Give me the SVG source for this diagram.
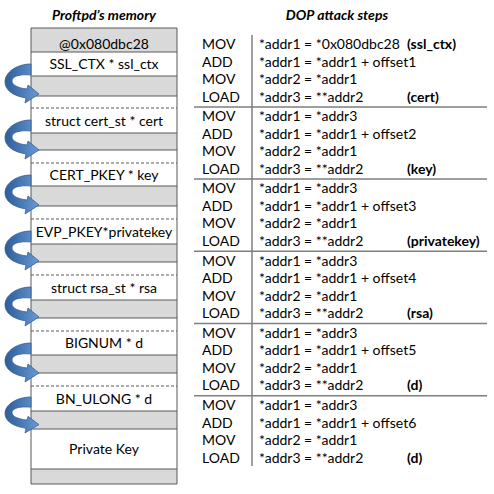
<svg xmlns="http://www.w3.org/2000/svg" xmlns:xlink="http://www.w3.org/1999/xlink" width="494" height="494" viewBox="0 0 494 494">
<defs>
<style>
.t{font-family:Lato,"Open Sans","Liberation Sans",sans-serif;font-size:14px;fill:#000}
.b{font-weight:bold}
.title{font-family:Lato,"Open Sans","Liberation Sans",sans-serif;font-size:14px;font-weight:bold;font-style:italic;fill:#000;text-anchor:middle}
.c{text-anchor:middle}
.w{fill:#fff}
.g{fill:#d9d9d9}
.sl{stroke:#595959;stroke-width:1;fill:none}
.dl{stroke:#595959;stroke-width:1;stroke-dasharray:3 2;fill:none}
.sep{stroke:#7f7f7f;stroke-width:1.5;fill:none}
.arr{fill:url(#ag);stroke:#355f94;stroke-width:0.8}
</style>
<linearGradient id="ag" x1="0" y1="0" x2="1" y2="0">
<stop offset="0" stop-color="#2f5d98"/>
<stop offset="0.6" stop-color="#4f81bd"/>
<stop offset="1" stop-color="#6a9ad6"/>
</linearGradient>
<path id="arrow" d="M31,12 C17,12 5,20 5,30 C5,38 13,44 26,46 L25,51 L39,42 L28,33 L27,37 C18,36 12,33 12,29 C12,24 20,22 31,23 Z"/>
</defs>
<rect width="494" height="494" fill="#fff"/>
<text class="title" x="104" y="20">Proftpd’s memory</text>
<text class="title" x="337" y="20">DOP attack steps</text>

<g id="memory">
<g id="cell-addr"><rect class="g" x="31" y="28" width="146" height="24"/><text class="t c" x="104" y="49">@0x080dbc28</text></g>
<g id="cell-ssl_ctx"><rect class="w" x="31" y="52" width="146" height="24"/><text class="t c" x="104" y="69">SSL_CTX * ssl_ctx</text><rect class="g" x="31" y="76" width="146" height="20"/></g>
<g id="cell-cert"><rect class="w" x="31" y="108" width="146" height="25"/><text class="t c" x="104" y="125.5">struct cert_st * cert</text><rect class="g" x="31" y="133" width="146" height="17"/></g>
<g id="cell-key"><rect class="w" x="31" y="163" width="146" height="23"/><text class="t c" x="104" y="179.5">CERT_PKEY * key</text><rect class="g" x="31" y="186" width="146" height="20"/></g>
<g id="cell-privatekey"><rect class="w" x="31" y="219" width="146" height="25"/><text class="t c" x="104" y="236.5">EVP_PKEY*privatekey</text><rect class="g" x="31" y="244" width="146" height="18"/></g>
<g id="cell-rsa"><rect class="w" x="31" y="275" width="146" height="25"/><text class="t c" x="104" y="292.5">struct rsa_st * rsa</text><rect class="g" x="31" y="300" width="146" height="18"/></g>
<g id="cell-bignum"><rect class="w" x="31" y="331" width="146" height="24"/><text class="t c" x="104" y="348">BIGNUM * d</text><rect class="g" x="31" y="355" width="146" height="18"/></g>
<g id="cell-bn_ulong"><rect class="w" x="31" y="386" width="146" height="25"/><text class="t c" x="104" y="403.5">BN_ULONG * d</text><rect class="g" x="31" y="411" width="146" height="18"/></g>
<g id="cell-privkey"><rect class="w" x="31" y="429" width="146" height="40"/><text class="t c" x="104" y="454">Private Key</text><rect class="g" x="31" y="469" width="146" height="15"/></g>
<path class="sl" d="M31,28H177M31,52H177M31,76H177M31,96H177M31,133H177M31,150H177M31,186H177M31,206H177M31,244H177M31,262H177M31,300H177M31,318H177M31,355H177M31,373H177M31,411H177M31,429H177M31,469H177M31,484H177M31,28V484M177,28V484"/>
<path class="dl" d="M31,108H177M31,163H177M31,219H177M31,275H177M31,331H177M31,386H177"/>
</g>

<g id="connectors">
<use xlink:href="#arrow" class="arr" transform="translate(0,52)"/>
<use xlink:href="#arrow" class="arr" transform="translate(0,108)"/>
<use xlink:href="#arrow" class="arr" transform="translate(0,163)"/>
<use xlink:href="#arrow" class="arr" transform="translate(0,219)"/>
<use xlink:href="#arrow" class="arr" transform="translate(0,275)"/>
<use xlink:href="#arrow" class="arr" transform="translate(0,331)"/>
<use xlink:href="#arrow" class="arr" transform="translate(0,386) scale(1,0.92)"/>
</g>

<g id="steps-frame">
<path class="sep" d="M252,35V466"/>
<path class="sep" d="M194,107H487M194,179H487M194,251.3H487M194,323.5H487M194,395.7H487"/>
</g>

<g id="step1">
<text class="t" x="202" y="49">MOV</text><text class="t" x="259" y="49">*addr1 = *0x080dbc28</text><text class="t b" x="407" y="49">(ssl_ctx)</text>
<text class="t" x="202" y="66.5">ADD</text><text class="t" x="259" y="66.5">*addr1 = *addr1 + offset1</text>
<text class="t" x="202" y="84">MOV</text><text class="t" x="259" y="84">*addr2 = *addr1</text>
<text class="t" x="202" y="101.5">LOAD</text><text class="t" x="259" y="101.5">*addr3 = **addr2</text><text class="t b" x="407" y="101.5">(cert)</text>
</g>
<g id="step2">
<text class="t" x="202" y="121.2">MOV</text><text class="t" x="259" y="121.2">*addr1 = *addr3</text>
<text class="t" x="202" y="138.7">ADD</text><text class="t" x="259" y="138.7">*addr1 = *addr1 + offset2</text>
<text class="t" x="202" y="156.2">MOV</text><text class="t" x="259" y="156.2">*addr2 = *addr1</text>
<text class="t" x="202" y="173.7">LOAD</text><text class="t" x="259" y="173.7">*addr3 = **addr2</text><text class="t b" x="407" y="173.7">(key)</text>
</g>
<g id="step3">
<text class="t" x="202" y="193.4">MOV</text><text class="t" x="259" y="193.4">*addr1 = *addr3</text>
<text class="t" x="202" y="210.9">ADD</text><text class="t" x="259" y="210.9">*addr1 = *addr1 + offset3</text>
<text class="t" x="202" y="228.4">MOV</text><text class="t" x="259" y="228.4">*addr2 = *addr1</text>
<text class="t" x="202" y="245.9">LOAD</text><text class="t" x="259" y="245.9">*addr3 = **addr2</text><text class="t b" x="407" y="245.9">(privatekey)</text>
</g>
<g id="step4">
<text class="t" x="202" y="265.6">MOV</text><text class="t" x="259" y="265.6">*addr1 = *addr3</text>
<text class="t" x="202" y="283.1">ADD</text><text class="t" x="259" y="283.1">*addr1 = *addr1 + offset4</text>
<text class="t" x="202" y="300.6">MOV</text><text class="t" x="259" y="300.6">*addr2 = *addr1</text>
<text class="t" x="202" y="318.1">LOAD</text><text class="t" x="259" y="318.1">*addr3 = **addr2</text><text class="t b" x="407" y="318.1">(rsa)</text>
</g>
<g id="step5">
<text class="t" x="202" y="337.8">MOV</text><text class="t" x="259" y="337.8">*addr1 = *addr3</text>
<text class="t" x="202" y="355.3">ADD</text><text class="t" x="259" y="355.3">*addr1 = *addr1 + offset5</text>
<text class="t" x="202" y="372.8">MOV</text><text class="t" x="259" y="372.8">*addr2 = *addr1</text>
<text class="t" x="202" y="390.3">LOAD</text><text class="t" x="259" y="390.3">*addr3 = **addr2</text><text class="t b" x="407" y="390.3">(d)</text>
</g>
<g id="step6">
<text class="t" x="202" y="410">MOV</text><text class="t" x="259" y="410">*addr1 = *addr3</text>
<text class="t" x="202" y="427.5">ADD</text><text class="t" x="259" y="427.5">*addr1 = *addr1 + offset6</text>
<text class="t" x="202" y="445">MOV</text><text class="t" x="259" y="445">*addr2 = *addr1</text>
<text class="t" x="202" y="462.5">LOAD</text><text class="t" x="259" y="462.5">*addr3 = **addr2</text><text class="t b" x="407" y="462.5">(d)</text>
</g>
</svg>
